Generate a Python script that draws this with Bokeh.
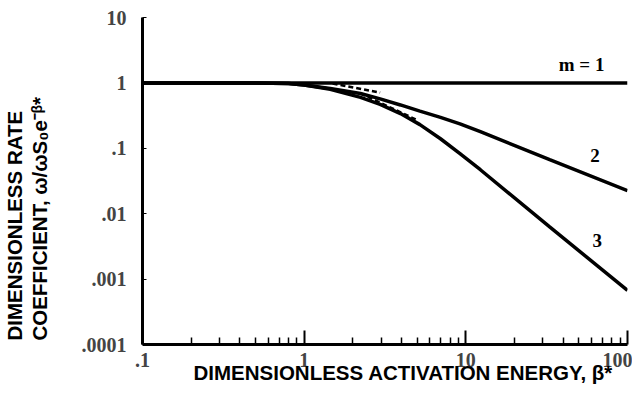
from bokeh.plotting import figure
from bokeh.models import FixedTicker, Range1d, Title
from bokeh.core.properties import value
from bokeh.embed import file_html
from bokeh.resources import INLINE

# Data
beta_m1 = [0.1, 100]
k_m1 = [1.0, 1.0]

beta = [0.1, 0.5, 0.8, 1.0, 1.45, 2.23, 2.95, 3.94, 5.2, 6.97, 9.2, 12.3, 33, 100]
k_m2 = [1.0, 1.0, 0.98, 0.93, 0.82, 0.69, 0.57, 0.46, 0.37, 0.297, 0.237, 0.180, 0.067, 0.0225]
k_m3 = [1.0, 1.0, 0.98, 0.93, 0.80, 0.60, 0.47, 0.34, 0.23, 0.14, 0.083, 0.047, 0.0063, 0.00067]

dash_a_x = [1.5, 2.95]
dash_a_y = [0.98, 0.71]
dash_b_x = [2.23, 5.0]
dash_b_y = [0.69, 0.27]

curve_labels = ["m = 1", "2", "3"]
label_x = [52, 63, 65]
label_y = [1.9, 0.077, 0.0039]

x_ticks = [0.1, 1, 10, 100]
x_tick_labels = [".1", "1", "10", "100"]
y_ticks = [0.0001, 0.001, 0.01, 0.1, 1, 10]
y_tick_labels = [".0001", ".001", ".01", ".1", "1", "10"]

x_minor = [m * d for d in (0.1, 1, 10) for m in range(2, 10)]

x_title = "DIMENSIONLESS ACTIVATION ENERGY, β*"
y_title_1 = "DIMENSIONLESS RATE"
y_title_2 = "COEFFICIENT, ω/ωS₀e⁻ᵝ*"

p = figure(width=632, height=392, x_axis_type="log", y_axis_type="log",
           x_range=Range1d(0.1, 100), y_range=Range1d(0.0001, 10),
           output_backend="svg", toolbar_location=None,
           min_border_left=142, min_border_right=5, min_border_top=17, min_border_bottom=48)
p.outline_line_color = None
p.xgrid.visible = False
p.ygrid.visible = False

p.line(beta_m1, k_m1, line_width=3.5, color="black")
p.line(beta, k_m2, line_width=3.5, color="black")
p.line(beta, k_m3, line_width=3.5, color="black")
p.line(dash_a_x, dash_a_y, line_width=2.5, color="black", line_dash="5 3")
p.line(dash_b_x, dash_b_y, line_width=2.5, color="black", line_dash="5 3")

p.text(x=label_x, y=label_y, text=curve_labels, text_font=value("Liberation Serif"),
       text_font_style="bold", text_font_size="19px", text_align="center",
       text_baseline="middle", color="black")

xa = p.xaxis[0]
xa.ticker = FixedTicker(ticks=x_ticks, minor_ticks=x_minor)
xa.major_label_overrides = {t: l for t, l in zip(x_ticks, x_tick_labels)}
xa.major_tick_in = 14
xa.major_tick_out = 0
xa.minor_tick_in = 7
xa.minor_tick_out = 0
xa.axis_line_width = 3
xa.major_tick_line_width = 2
xa.minor_tick_line_width = 1.5
xa.major_label_text_font = "Liberation Serif"
xa.major_label_text_font_style = "bold"
xa.major_label_text_font_size = "20px"
xa.major_label_standoff = 8

ya = p.yaxis[0]
ya.ticker = FixedTicker(ticks=y_ticks, minor_ticks=[])
ya.major_label_overrides = {t: l for t, l in zip(y_ticks, y_tick_labels)}
ya.major_tick_in = 4
ya.major_tick_out = 0
ya.minor_tick_in = 0
ya.minor_tick_out = 0
ya.axis_line_width = 3
ya.major_label_text_font = "Liberation Serif"
ya.major_label_text_font_style = "bold"
ya.major_label_text_font_size = "20px"
ya.major_label_standoff = 16

title_style = dict(text_font="Liberation Sans", text_font_style="bold",
                   text_font_size="20.5px", text_color="black")
p.add_layout(Title(text=x_title, align="left", offset=51, standoff=-22, **title_style), "below")
# spacer between the y tick labels and the second title line
p.add_layout(Title(text="\u00a0", align="left", offset=0, standoff=25,
                   text_font_size="1px"), "left")
p.add_layout(Title(text=y_title_2, align="left", offset=4, standoff=0, **title_style), "left")
p.add_layout(Title(text=y_title_1, align="left", offset=4, standoff=0, **title_style), "left")

open("out.html", "w").write(file_html(p, INLINE))
